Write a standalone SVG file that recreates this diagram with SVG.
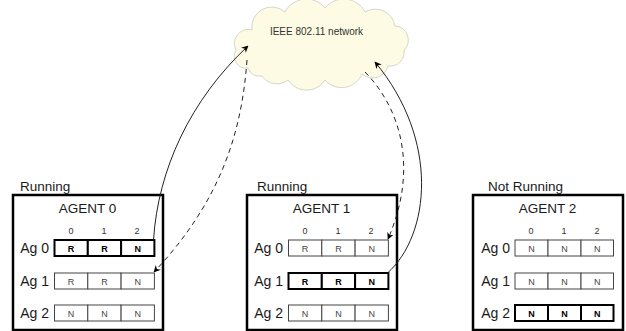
<svg xmlns="http://www.w3.org/2000/svg" width="626" height="331" viewBox="0 0 626 331">
<defs>
<style>
text{font-family:"Liberation Sans",Arial,sans-serif;fill:#1a1a1a}
.box{fill:#fff;stroke:#000;stroke-width:2.5}
.st{font-size:13.5px}
.title{font-size:13.5px;text-anchor:middle}
.col{font-size:9px;text-anchor:middle;fill:#333}
.ag{font-size:14px;text-anchor:end}
.cell{fill:#fff;stroke:#444;stroke-width:1}
.cellb{fill:#fff;stroke:#000;stroke-width:2}
.ct{font-size:9px;text-anchor:middle;fill:#444}
.ctb{font-size:9px;text-anchor:middle;font-weight:bold;fill:#000}
.cloud{fill:#fdfbe4;stroke:#d6d6cc;stroke-width:1}
.conn{fill:none;stroke:#222;stroke-width:1}
.dash{stroke-dasharray:5,4}
</style>
<marker id="ah" viewBox="0 0 10 10" refX="9" refY="5" markerWidth="7" markerHeight="7" orient="auto" markerUnits="userSpaceOnUse">
<path d="M0,0 L10,5 L0,10 L3,5 z" fill="#000"/>
</marker>
</defs>

<g id="network">
<path class="cloud" d="M248,68 A12,12 0 0 1 236,50 A14,14 0 0 1 252,30 A20,20 0 0 1 285,12 A24,24 0 0 1 325,8 A24,24 0 0 1 365,12 A20,20 0 0 1 395,26 A14,14 0 0 1 404,50 A14,14 0 0 1 388,66 A16,16 0 0 1 362,74 A22,22 0 0 1 325,80 A22,22 0 0 1 288,80 A18,18 0 0 1 262,76 A12,12 0 0 1 248,68 z"/>
<text x="316.5" y="35" style="font-size:10px;text-anchor:middle;fill:#333">IEEE 802.11 network</text>
</g>

<g id="agent0">
<text class="st" x="20" y="191">Running</text>
<rect class="box" x="13" y="195" width="150" height="135"/>
<text class="title" x="87.5" y="213">AGENT 0</text>
<text class="col" x="71" y="234">0</text><text class="col" x="104" y="234">1</text><text class="col" x="137" y="234">2</text>
<text class="ag" x="49" y="253">Ag 0</text>
<rect class="cellb" x="54.5" y="240" width="33.3" height="16"/><rect class="cellb" x="87.8" y="240" width="33.3" height="16"/><rect class="cellb" x="121.1" y="240" width="33.3" height="16"/>
<text class="ctb" x="71" y="251.5">R</text><text class="ctb" x="104.5" y="251.5">R</text><text class="ctb" x="137.8" y="251.5">N</text>
<text class="ag" x="49" y="286">Ag 1</text>
<rect class="cell" x="54.5" y="273" width="33.3" height="16"/><rect class="cell" x="87.8" y="273" width="33.3" height="16"/><rect class="cell" x="121.1" y="273" width="33.3" height="16"/>
<text class="ct" x="71" y="284.5">R</text><text class="ct" x="104.5" y="284.5">R</text><text class="ct" x="137.8" y="284.5">N</text>
<text class="ag" x="49" y="318">Ag 2</text>
<rect class="cell" x="54.5" y="305" width="33.3" height="16"/><rect class="cell" x="87.8" y="305" width="33.3" height="16"/><rect class="cell" x="121.1" y="305" width="33.3" height="16"/>
<text class="ct" x="71" y="316.5">N</text><text class="ct" x="104.5" y="316.5">N</text><text class="ct" x="137.8" y="316.5">N</text>
</g>

<g id="agent1">
<text class="st" x="257" y="191">Running</text>
<rect class="box" x="247" y="195" width="150" height="135"/>
<text class="title" x="321.5" y="213">AGENT 1</text>
<text class="col" x="305" y="234">0</text><text class="col" x="338" y="234">1</text><text class="col" x="371" y="234">2</text>
<text class="ag" x="283" y="253">Ag 0</text>
<rect class="cell" x="288.5" y="240" width="33.3" height="16"/><rect class="cell" x="321.8" y="240" width="33.3" height="16"/><rect class="cell" x="355.1" y="240" width="33.3" height="16"/>
<text class="ct" x="305" y="251.5">R</text><text class="ct" x="338.5" y="251.5">R</text><text class="ct" x="371.8" y="251.5">N</text>
<text class="ag" x="283" y="286">Ag 1</text>
<rect class="cellb" x="288.5" y="273" width="33.3" height="16"/><rect class="cellb" x="321.8" y="273" width="33.3" height="16"/><rect class="cellb" x="355.1" y="273" width="33.3" height="16"/>
<text class="ctb" x="305" y="284.5">R</text><text class="ctb" x="338.5" y="284.5">R</text><text class="ctb" x="371.8" y="284.5">N</text>
<text class="ag" x="283" y="318">Ag 2</text>
<rect class="cell" x="288.5" y="305" width="33.3" height="16"/><rect class="cell" x="321.8" y="305" width="33.3" height="16"/><rect class="cell" x="355.1" y="305" width="33.3" height="16"/>
<text class="ct" x="305" y="316.5">N</text><text class="ct" x="338.5" y="316.5">N</text><text class="ct" x="371.8" y="316.5">N</text>
</g>

<g id="agent2">
<text class="st" x="488" y="191">Not Running</text>
<rect class="box" x="473" y="195" width="150" height="135"/>
<text class="title" x="547.5" y="213">AGENT 2</text>
<text class="col" x="531" y="234">0</text><text class="col" x="564" y="234">1</text><text class="col" x="597" y="234">2</text>
<text class="ag" x="510" y="253">Ag 0</text>
<rect class="cell" x="515" y="240" width="33" height="16"/><rect class="cell" x="548" y="240" width="33" height="16"/><rect class="cell" x="581" y="240" width="32.5" height="16"/>
<text class="ct" x="531.5" y="251.5">N</text><text class="ct" x="564.5" y="251.5">N</text><text class="ct" x="597.3" y="251.5">N</text>
<text class="ag" x="510" y="286">Ag 1</text>
<rect class="cell" x="515" y="273" width="33" height="16"/><rect class="cell" x="548" y="273" width="33" height="16"/><rect class="cell" x="581" y="273" width="32.5" height="16"/>
<text class="ct" x="531.5" y="284.5">N</text><text class="ct" x="564.5" y="284.5">N</text><text class="ct" x="597.3" y="284.5">N</text>
<text class="ag" x="510" y="318">Ag 2</text>
<rect class="cellb" x="515" y="305" width="33" height="16"/><rect class="cellb" x="548" y="305" width="33" height="16"/><rect class="cellb" x="581" y="305" width="32.5" height="16"/>
<text class="ctb" x="531.5" y="316.5">N</text><text class="ctb" x="564.5" y="316.5">N</text><text class="ctb" x="597.3" y="316.5">N</text>
</g>

<g id="connectors">
<path class="conn" d="M153.5,240 C158,170 190,100 248,46" marker-end="url(#ah)"/>
<path class="conn dash" d="M247,60 C242,130 222,200 154,272" marker-end="url(#ah)"/>
<path class="conn" d="M387.5,273 C430,235 440,140 375,62" marker-end="url(#ah)"/>
<path class="conn dash" d="M365,72 C402,110 418,170 388,239" marker-end="url(#ah)"/>
</g>
</svg>
